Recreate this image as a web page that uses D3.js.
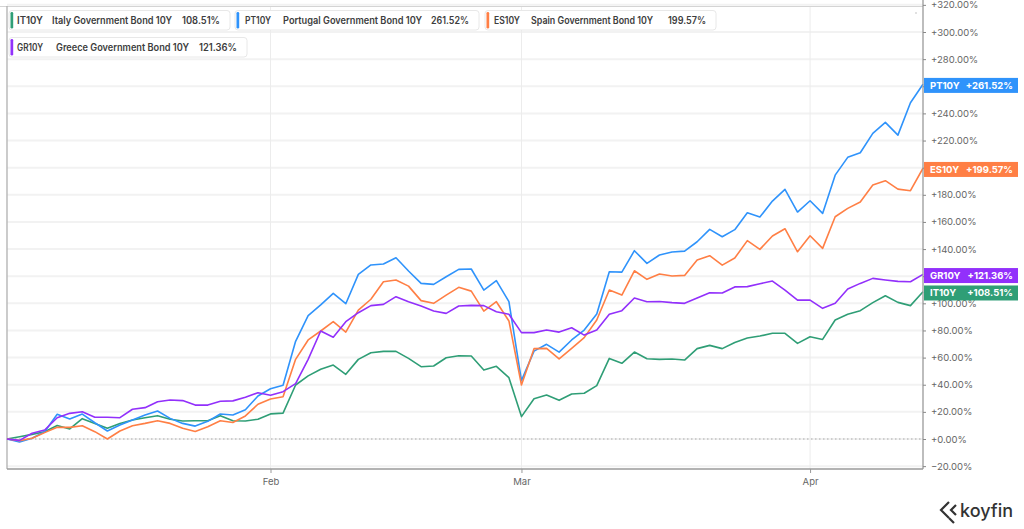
<!DOCTYPE html>
<html><head><meta charset="utf-8">
<script src="https://cdn.jsdelivr.net/npm/d3@7"></script>
<style>
html,body{margin:0;padding:0;background:#fff;}
svg{display:block;font-family:Inter,"Noto Sans",sans-serif;}
</style></head>
<body><svg id="c" width="1024" height="529"></svg>
<script>
// ---------- DATA ----------
const dates = [
"2022-01-03","2022-01-04","2022-01-05","2022-01-06","2022-01-07","2022-01-10","2022-01-11","2022-01-12","2022-01-13","2022-01-14",
"2022-01-17","2022-01-18","2022-01-19","2022-01-20","2022-01-21","2022-01-24","2022-01-25","2022-01-26","2022-01-27","2022-01-28",
"2022-01-31","2022-02-01","2022-02-02","2022-02-03","2022-02-04","2022-02-07","2022-02-08","2022-02-09","2022-02-10","2022-02-11",
"2022-02-14","2022-02-15","2022-02-16","2022-02-17","2022-02-18","2022-02-21","2022-02-22","2022-02-23","2022-02-24","2022-02-25",
"2022-02-28","2022-03-01","2022-03-02","2022-03-03","2022-03-04","2022-03-07","2022-03-08","2022-03-09","2022-03-10","2022-03-11",
"2022-03-14","2022-03-15","2022-03-16","2022-03-17","2022-03-18","2022-03-21","2022-03-22","2022-03-23","2022-03-24","2022-03-25",
"2022-03-28","2022-03-29","2022-03-30","2022-03-31","2022-04-01","2022-04-04","2022-04-05","2022-04-06","2022-04-07","2022-04-08",
"2022-04-11","2022-04-12","2022-04-13","2022-04-14"];

const itValues = [0,1.7,3.4,5.4,10,7.4,15,11.5,7.9,11.5,14,15.7,17.2,14.5,13.3,13.4,13.4,17.2,13.4,13.3,
14.6,18.5,19.1,39.8,46.5,51.4,54.5,47.7,58.7,63.6,64.6,64.6,59.4,53.3,53.8,59.9,61.4,61.2,50.8,53.6,
45.2,16.5,29.7,32.4,28.5,33.2,33.7,39.3,59.4,55.8,64.1,59.2,58.7,59,58.2,66.6,69,66.6,71.1,74.4,
75.9,77.9,77.9,70.5,75.4,73.4,87.7,91.9,94.6,100.5,105.6,100.7,98.3,108.51];

const ptValues = [0,-2.2,0.5,5.4,18.2,14.7,18.4,12,5.9,10.3,14,17.7,20.6,15.2,11.5,9.5,13,18.4,17.7,21.6,
31.7,37,39.6,72,90.9,98.8,107.3,99.7,121.3,128.3,129,133.6,123.8,114.7,114,119.6,125,125.3,109.8,116.7,
101.2,43,64.8,69.8,64,73,80.3,92.1,123.3,123,138.8,129.5,135.6,137.8,138.5,145.4,154.5,149.1,154.3,166.8,
163.6,175.4,184,167.3,175.6,166.3,194.5,207.6,211,225.3,233.4,224,247.9,261.52];

const esValues = [0,-1.2,0.5,4.7,8.6,8.6,9.8,5.4,0,5.9,9.8,11.5,13.5,11.5,7.9,5.6,9.1,13.4,12.2,17,
25.6,29.5,31.2,58.7,73,79.6,86.5,78.8,95,103,115.9,117.2,112.7,102,100,106.1,111.8,109,94.3,101.2,
87,39.8,66.6,66.8,59,66.8,74.7,87.7,109.8,106.1,124,117.7,121.6,120.1,120.6,131.9,135.1,128.2,133.4,146.2,
139.8,149.6,155,138,149.8,140.5,163.8,170,174.7,187.2,190.4,184.2,183,199.57];

const grValues = [0,-1,4.2,6.6,15.7,18.9,20.1,16,16,15.7,21.9,23.1,27.5,28.7,28.3,25,25,27.8,28.1,30.7,
34.1,32.3,34.9,40.8,58.7,79.6,75,86.5,93.1,98.3,99.2,104.9,101.2,98,94.3,92.6,98,98.5,98.3,93.8,
91.9,78.4,78.4,80.3,78.8,82,76.6,80.3,91.9,94.6,103.9,101.2,101.4,100.5,100,103.9,107.8,107.6,112.1,112.3,
114.5,116.4,109.8,102.4,102.4,96.3,100,110.5,114.7,118.4,117.2,116.2,115.9,121.36];

const tickers = ["IT10Y","PT10Y","ES10Y","GR10Y"];
const names = ["Italy Government Bond 10Y","Portugal Government Bond 10Y","Spain Government Bond 10Y","Greece Government Bond 10Y"];
const colors = ["#2f9e76","#2f93fb","#ff7f45","#9230fb"];
const seriesValues = [itValues, ptValues, esValues, grValues];

const xTickDates = ["2022-02-01","2022-03-01","2022-04-01"];
const xTickLabels = ["Feb","Mar","Apr"];
const yTicks = [-20,0,20,40,60,80,100,120,140,160,180,200,220,240,260,280,300,320];

// ---------- LAYOUT ----------
const svg = d3.select("#c");
const L = 7, R = 923, B = 469;
const x = d3.scalePoint().domain(dates).range([L, R]);
const y = d3.scaleLinear().domain([0, 300]).range([439, 32]);

const g = svg.append("g");
g.selectAll("line.hg").data(yTicks).join("line")
  .attr("x1", L).attr("x2", R).attr("y1", d => y(d)).attr("y2", d => y(d))
  .attr("stroke", "#f2f2f2").attr("stroke-width", 2);
g.selectAll("line.vg").data(xTickDates).join("line")
  .attr("x1", d => x(d)).attr("x2", d => x(d)).attr("y1", 6).attr("y2", B)
  .attr("stroke", "#ececec").attr("stroke-width", 1);
g.append("line").attr("x1", L).attr("x2", R).attr("y1", y(0)).attr("y2", y(0))
  .attr("stroke", "#aaa").attr("stroke-width", 1).attr("stroke-dasharray", "1.5,2.5");
svg.append("line").attr("x1", 0).attr("x2", R).attr("y1", 6.5).attr("y2", 6.5).attr("stroke", "#d4d4d4").attr("stroke-width", 1);
svg.append("line").attr("x1", L).attr("x2", L).attr("y1", 6).attr("y2", B).attr("stroke", "#b0b0b0").attr("stroke-width", 1.3);
svg.append("circle").attr("cx", 916).attr("cy", 13).attr("r", 0.8).attr("fill", "#bbb");

const line = d3.line().x((d, i) => x(dates[i])).y(d => y(d));
seriesValues.forEach((vals, k) => {
  svg.append("path").datum(vals).attr("d", line)
    .attr("fill", "none").attr("stroke", colors[k]).attr("stroke-width", 1.6)
    .attr("stroke-linejoin", "round");
});

// x axis
const xAxis = d3.axisBottom(x).tickValues(xTickDates)
  .tickFormat(d => xTickLabels[xTickDates.indexOf(d)]).tickSize(4).tickSizeOuter(0);
const gx = svg.append("g").attr("transform", `translate(0,${B})`).call(xAxis);
gx.select(".domain").attr("stroke", "#9a9a9a").attr("stroke-width", 1.5).attr("d", `M${L},0H${R}`);
gx.selectAll(".tick line").attr("stroke", "#999");
gx.selectAll(".tick text").attr("fill", "#666").attr("font-size", 9.5).attr("dy", "0.9em")
  .attr("font-family", "Inter, sans-serif");

// end badge positions (used to hide covered tick labels, as in the reference)
const badgeY = seriesValues.map((vals, k) => y(vals[vals.length - 1]) + 1.2);

// y axis (right)
const fmt = d => (d >= 0 ? "+" : "") + d3.format(".2f")(d) + "%";
const yAxis = d3.axisRight(y).tickValues(yTicks).tickFormat(fmt).tickSize(3).tickSizeOuter(0);
const gy = svg.append("g").attr("transform", `translate(${R},0)`).call(yAxis);
gy.select(".domain").attr("stroke", "#9a9a9a").attr("stroke-width", 1.3).attr("d", `M0,0V${B}`);
gy.selectAll(".tick line").attr("stroke", "#888");
gy.selectAll(".tick text").attr("fill", "#666").attr("font-size", 9.5).attr("x", 8)
  .attr("font-family", "Inter, sans-serif");
gy.selectAll(".tick").filter(d => badgeY.some(by => Math.abs(by - y(d)) < 9)).select("text").remove();

// end badges
seriesValues.forEach((vals, k) => {
  const v = vals[vals.length - 1];
  const bg = svg.append("g").attr("transform", `translate(${R + 1},${badgeY[k]})`);
  bg.append("rect").attr("x", 0).attr("y", -7.5).attr("width", 94).attr("height", 15).attr("fill", colors[k]);
  bg.append("text").attr("x", 6).attr("y", 3.5).attr("fill", "#fff").attr("font-size", 9.5)
    .attr("font-weight", 700).text(tickers[k]);
  bg.append("text").attr("x", 89).attr("y", 3.5).attr("fill", "#fff").attr("font-size", 9.5)
    .attr("font-weight", 700).attr("text-anchor", "end").text("+" + d3.format(".2f")(v) + "%");
});

// legend
const legendPos = [
  {bx: 9, by: 10.5, bw: 221, tx: 17, nx: 52, nw: 120, vx: 182},
  {bx: 235, by: 10.5, bw: 244, tx: 245, nx: 283, nw: 139, vx: 431},
  {bx: 485, by: 10.5, bw: 231, tx: 494, nx: 531, nw: 122, vx: 668},
  {bx: 9, by: 37.5, bw: 238, tx: 17, nx: 56, nw: 133, vx: 199}
];
seriesValues.forEach((vals, k) => {
  const p = legendPos[k];
  const lg = svg.append("g");
  lg.append("rect").attr("x", p.bx).attr("y", p.by).attr("width", p.bw).attr("height", 19.5)
    .attr("rx", 3).attr("fill", "#fff").attr("stroke", "#e8e8e8");
  lg.append("rect").attr("x", p.bx + 1.5).attr("y", p.by + 1.5).attr("width", 2.7).attr("height", 16.5)
    .attr("rx", 1.3).attr("fill", colors[k]);
  const ty = p.by + 13.5;
  lg.append("text").attr("x", p.tx).attr("y", ty).attr("font-size", 10).attr("font-weight", 600)
    .attr("fill", "#3d3d3d").attr("textLength", 26).attr("lengthAdjust", "spacingAndGlyphs").text(tickers[k]);
  lg.append("text").attr("x", p.nx).attr("y", ty).attr("font-size", 10).attr("font-weight", 600)
    .attr("fill", "#3d3d3d").attr("textLength", p.nw).attr("lengthAdjust", "spacingAndGlyphs").text(names[k]);
  lg.append("text").attr("x", p.vx).attr("y", ty).attr("font-size", 10).attr("font-weight", 600)
    .attr("fill", "#3d3d3d").attr("textLength", 38).attr("lengthAdjust", "spacingAndGlyphs")
    .text(d3.format(".2f")(vals[vals.length - 1]) + "%");
});

// koyfin logo
const logo = svg.append("g").attr("transform", "translate(940,502)");
logo.append("path").attr("d", "M9,0 L1,8 L9,16").attr("fill", "none").attr("stroke", "#333").attr("stroke-width", 2.2);
logo.append("path").attr("d", "M16,3 L11,8 L16,13").attr("fill", "none").attr("stroke", "#333").attr("stroke-width", 2.2);
logo.append("path").attr("d", "M9,16 L14,21").attr("fill", "none").attr("stroke", "#333").attr("stroke-width", 2.2);
svg.append("text").attr("x", 960).attr("y", 517).attr("font-size", 18).attr("font-weight", 500)
  .attr("fill", "#333").attr("font-family", "Inter, sans-serif").text("koyfin");
</script></body></html>
